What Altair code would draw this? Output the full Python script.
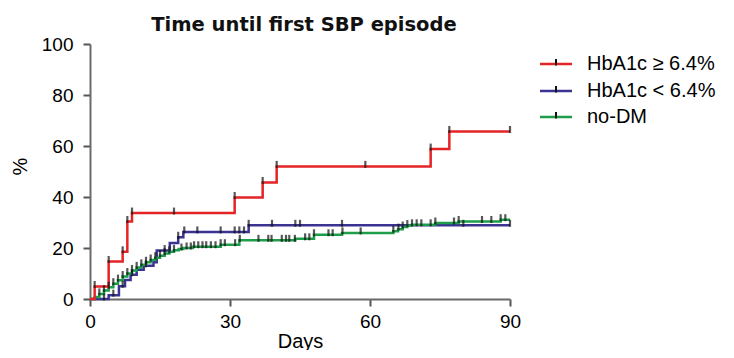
import altair as alt
import pandas as pd

# ---------------- data ----------------
series = ["HbA1c ≥ 6.4%", "HbA1c < 6.4%", "no-DM"]
colors = ["#E42527", "#3B3392", "#1E9E4A"]

red_days = [0, 1, 4, 7, 8, 9, 31, 37, 40, 73, 77, 90]
red_pct = [0, 4.9, 14.7, 18.5, 30.4, 33.7, 39.8, 45.7, 52.0, 58.8, 65.7, 65.7]
red_censor = [1, 4, 7, 8, 9, 18, 31, 37, 40, 59, 73, 77, 90]

blue_days = [0, 4, 6.2, 7.5, 8.7, 10, 11.5, 13.6, 14.3, 17.1, 18.9, 20, 34, 90]
blue_pct = [0, 1.5, 5.0, 7.5, 9.5, 11.5, 13.0, 14.4, 19.0, 22.0, 24.2, 26.3, 28.9, 28.9]
blue_censor = [3, 5, 7, 9, 12, 16, 18.9, 20.2, 23, 28, 31, 32, 33, 34, 39, 44, 45, 54, 80, 90]

green_days = [0, 1, 2, 3, 4, 5, 6, 7, 8, 9, 10, 11, 12, 13, 14, 15, 16, 17, 18, 19,
              20, 22, 28, 32, 44, 48, 54, 65, 66, 67, 68, 69, 74, 79, 88, 90]
green_pct = [0, 0.8, 2.0, 3.3, 4.6, 6.0, 7.4, 8.8, 10.0, 11.2, 12.4, 13.4, 14.4, 15.3,
             16.2, 17.0, 17.8, 18.5, 19.1, 19.6, 20.0, 20.5, 21.3, 23.0, 23.6, 25.2,
             25.9, 26.6, 27.4, 28.2, 28.8, 29.1, 29.8, 30.4, 31.1, 31.1]
green_censor = [2, 3, 4, 5, 6, 7, 8, 9, 10, 11, 12, 13, 14, 15, 16, 17, 18, 19.6, 20.7,
                21.6, 22.3, 23.2, 24.1, 24.9, 25.9, 26.9, 28, 28.9, 31.1, 32.1, 36.1,
                38.2, 38.9, 41.1, 42, 42.7, 43.9, 46.1, 47, 48, 51.1, 52, 54.1, 58, 65,
                66.1, 67, 68, 69, 70, 71, 73, 74, 78, 79, 84, 86, 88, 89]

x_ticks = [0, 30, 60, 90]
y_ticks = [0, 20, 40, 60, 80, 100]
title_text = "Time until first SBP episode"

FONT = "Liberation Sans"


def step_value(days, pct, d):
    v = pct[0]
    for dd, pp in zip(days, pct):
        if dd <= d:
            v = pp
    return v


curves = {
    series[0]: (red_days, red_pct, red_censor),
    series[1]: (blue_days, blue_pct, blue_censor),
    series[2]: (green_days, green_pct, green_censor),
}

X = alt.X("day:Q", scale=alt.Scale(domain=[0, 90], nice=False, padding=0),
          axis=alt.Axis(values=x_ticks, title="Days", titleX=210, titleY=48,
                        titleBaseline="alphabetic", titleAngle=0, labelFlush=False))
Y = alt.Y("pct:Q", scale=alt.Scale(domain=[0, 100], nice=False, padding=0),
          axis=alt.Axis(values=y_ticks, title="%", titleX=-64, titleY=122,
                        titleAngle=-90, titleBaseline="alphabetic", titleAlign="center",
                        labelFlush=False))

layers = []
draw_order = [series[1], series[2], series[0]]
for name in draw_order:
    d, p, c = curves[name]
    col = colors[series.index(name)]
    df = pd.DataFrame({"day": d, "pct": p})
    layers.append(alt.Chart(df).mark_line(interpolate="step-after", strokeWidth=2.5,
                                          color=col).encode(x=X, y=Y))
for name in draw_order:
    d, p, c = curves[name]
    cdf = pd.DataFrame({"day": c, "pct": [step_value(d, p, v) for v in c]})
    layers.append(alt.Chart(cdf).mark_tick(orient="vertical", size=7, thickness=2.2,
                                           color="#111111", yOffset=-2).encode(x=X, y=Y))

# title as text
tdf = pd.DataFrame({"t": [title_text]})
layers.append(alt.Chart(tdf).mark_text(align="center", baseline="alphabetic", fontSize=19.5,
                                       fontWeight="bold", font="DejaVu Sans",
                                       color="#111111").encode(
    x=alt.value(214), y=alt.value(-13), text="t:N"))

# legend (drawn manually)
legend_y = [20, 47, 73]
for i, name in enumerate(series):
    ly = legend_y[i]
    ldf = pd.DataFrame({"label": [name]})
    layers.append(alt.Chart(ldf).mark_rule(color=colors[i], strokeWidth=2.5).encode(
        x=alt.value(450), x2=alt.value(482), y=alt.value(ly)))
    layers.append(alt.Chart(ldf).mark_rule(color="#111111", strokeWidth=2).encode(
        x=alt.value(466), y=alt.value(ly - 5), y2=alt.value(ly + 1.5)))
    layers.append(alt.Chart(ldf).mark_text(align="left", baseline="middle", fontSize=20,
                                           font=FONT, color="#000000").encode(
        x=alt.value(497), y=alt.value(ly), text="label:N"))

chart = alt.layer(*layers).properties(
    width=420, height=255,
    autosize=alt.AutoSizeParams(type="none"),
    padding={"left": 82, "top": 36, "right": 216, "bottom": 51},
).configure_view(stroke=None).configure_axis(
    labelFont=FONT, labelFontSize=19, labelColor="#000000",
    titleFont=FONT, titleFontSize=20, titleColor="#000000", titleFontWeight="normal",
    domainColor="#6a6a6a", domainWidth=2, tickColor="#555555", tickWidth=2, tickSize=7,
    grid=False,
).configure_axisX(labelPadding=6).configure_axisY(labelPadding=10)

chart.save("out.html", embed_options={"renderer": "svg", "actions": False})
